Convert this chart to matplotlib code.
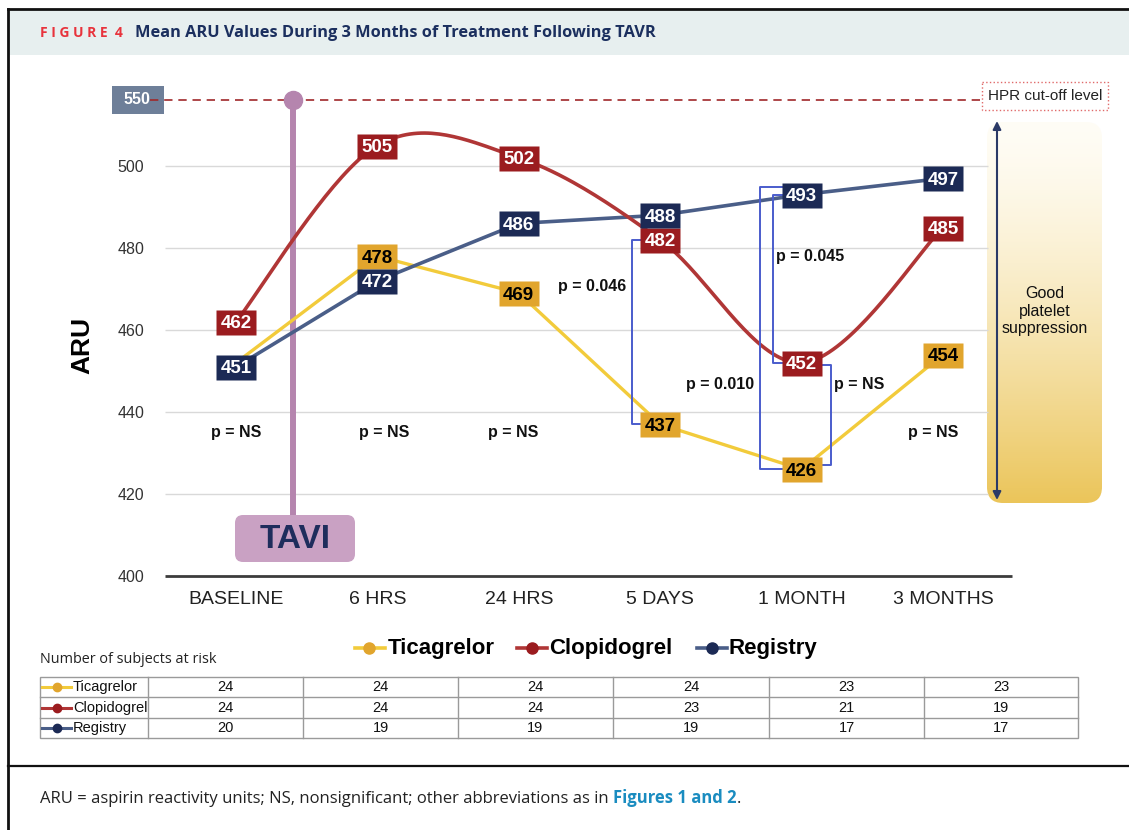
import matplotlib
matplotlib.use('Agg')
import matplotlib.pyplot as plt
import numpy as np
from matplotlib.patches import Rectangle, FancyBboxPatch
from matplotlib.path import Path
from matplotlib.colors import to_rgb

plt.rcParams['font.family'] = ['Liberation Sans', 'DejaVu Sans']

W, H = 1129, 830

# ---- data ----
timepoints = ['BASELINE', '6 HRS', '24 HRS', '5 DAYS', '1 MONTH', '3 MONTHS']
ticagrelor = [452, 478, 469, 437, 426, 454]
clopidogrel = [462, 505, 502, 482, 452, 485]
registry = [451, 472, 486, 488, 493, 497]
y_ticks = [400, 420, 440, 460, 480, 500]
hpr_cutoff = 550
hpr_pos = 516          # cut-off drawn just above 500 (broken axis)
tavi_pos = 0.4         # TAVI between baseline and 6 hrs

groups = ['Ticagrelor', 'Clopidogrel', 'Registry']
risk_ticagrelor = [24, 24, 24, 24, 23, 23]
risk_clopidogrel = [24, 24, 24, 23, 21, 19]
risk_registry = [20, 19, 19, 19, 17, 17]

# colours
c_tica_line, c_tica_box = '#f2cb3b', '#e1a52d'
c_clop_line, c_clop_box = '#b03636', '#9b1c1f'
c_reg_line, c_reg_box = '#4a5e88', '#1c2a55'
c_bracket = '#4a5ccc'
c_tavi = '#b585ae'


def smooth(xs, ys, n=40):
    # catmull-rom, like the excel "smoothed line"
    pts = np.column_stack([xs, ys]).astype(float)
    p = np.vstack([pts[0], pts, pts[-1]])
    out = []
    t = np.linspace(0, 1, n)[:, None]
    for i in range(1, len(p) - 2):
        p0, p1, p2, p3 = p[i - 1], p[i], p[i + 1], p[i + 2]
        seg = 0.5 * (2 * p1 + (-p0 + p2) * t + (2 * p0 - 5 * p1 + 4 * p2 - p3) * t ** 2
                     + (-p0 + 3 * p1 - 3 * p2 + p3) * t ** 3)
        out.append(seg)
    return np.vstack(out)


fig = plt.figure(figsize=(W / 100, H / 100), dpi=100)

# pixel-space background axes for the frame, table, legend etc.
bg = fig.add_axes([0, 0, 1, 1])
bg.set_xlim(0, W)
bg.set_ylim(H, 0)
bg.axis('off')

# frame + header
bg.add_patch(Rectangle((8, 11), W - 8, 44, fc='#e7efef', ec='none'))
bg.plot([8, W], [9, 9], color='#111111', lw=2)
bg.plot([8, 8], [9, H], color='#111111', lw=2)
bg.plot([8, W], [766, 766], color='#111111', lw=1.6)
bg.text(40, 33, 'F I G U R E  4', color='#e8333c', fontsize=10, fontweight='bold',
        family='Open Sans', va='center')
bg.text(135, 33, 'Mean ARU Values During 3 Months of Treatment Following TAVR',
        color='#1b2f5e', fontsize=11.8, fontweight='bold', family='Open Sans', va='center')

# main chart axes: x 165..1012 px, y 84..576 px
px_per_x = 141.4
x0_px = 236
left_px, right_px, top_px, bot_px = 165, 1012, 84, 576
ax = fig.add_axes([left_px / W, (H - bot_px) / H, (right_px - left_px) / W, (bot_px - top_px) / H])
ax.set_zorder(1)
ax.patch.set_alpha(0)
ax.set_xlim((left_px - x0_px) / px_per_x, (right_px - x0_px) / px_per_x)
ax.set_ylim(400, 400 + (bot_px - top_px) / 4.1)
for s in ax.spines.values():
    s.set_visible(False)
x = np.arange(len(timepoints))
ax.set_xticks(x)
ax.set_xticklabels(timepoints, fontsize=14, color='#222222')
ax.set_yticks(y_ticks)
ax.set_yticklabels([str(v) for v in y_ticks], fontsize=11.5, color='#333333')
ax.tick_params(axis='both', length=0)
ax.tick_params(axis='x', pad=11)
ax.tick_params(axis='y', pad=15)

ax.hlines(y_ticks[1:], -0.5, 5.32, color='#d9d9d9', lw=1, zorder=0)
ax.hlines(400, ax.get_xlim()[0], ax.get_xlim()[1], color='#3c3c3c', lw=2, zorder=1, clip_on=False)

# HPR cut-off
ax.plot([-0.61, 5.26], [hpr_pos, hpr_pos], color='#a0282a', lw=1.2, dashes=(5, 3.5),
        zorder=1, clip_on=False)

# TAVI marker
y_tavi_bot = 400 + (bot_px - 515) / 4.1
ax.plot([tavi_pos, tavi_pos], [y_tavi_bot, hpr_pos], color=c_tavi, lw=4.3, zorder=2,
        solid_capstyle='butt')
ax.plot(tavi_pos, hpr_pos, 'o', ms=13, color=c_tavi, zorder=2, clip_on=False)

# series
ax.plot(x, ticagrelor, color=c_tica_line, lw=2.4, zorder=2)
ax.plot(x, registry, color=c_reg_line, lw=2.6, zorder=3)
sc = smooth(x, clopidogrel)
ax.plot(sc[:, 0], sc[:, 1], color=c_clop_line, lw=2.6, zorder=3)

# value boxes
rect = Path([(-0.8, -0.5), (0.8, -0.5), (0.8, 0.5), (-0.8, 0.5), (-0.8, -0.5)])


def value_boxes(xs, ys, fc, tc, z):
    for xi, yi in zip(xs, ys):
        ax.plot(xi, yi, marker=rect, ms=28.8, mfc=fc, mec='none', zorder=z, clip_on=False)
        ax.text(xi, yi, str(yi), ha='center', va='center_baseline', fontsize=13.5,
                fontweight='bold', color=tc, zorder=z + 0.5)


value_boxes(x[1:], ticagrelor[1:], c_tica_box, 'black', 6)
value_boxes(x, clopidogrel, c_clop_box, 'white', 7)
value_boxes(x, registry, c_reg_box, 'white', 8)


# significance brackets
def bracket(xv, x_top, y_top, x_bot, y_bot):
    ax.plot([x_top, xv, xv, x_bot], [y_top, y_top, y_bot, y_bot], color=c_bracket,
            lw=1.4, zorder=4)


bracket(3 - 28 / px_per_x, 3, clopidogrel[3], 3, ticagrelor[3])
bracket(4 - 42 / px_per_x, 4, 495, 4, 426)
bracket(4 - 29 / px_per_x, 4, registry[4], 4, clopidogrel[4])
bracket(4 + 29 / px_per_x, 4, 451.5, 4, 427)

pk = dict(ha='center', va='center', fontsize=11.5, fontweight='bold', color='#111111', zorder=9)
for xp in [0, 1.05, 1.96, 4.93]:
    ax.text(xp, 435.1, 'p = NS', **pk)
ax.text(2.52, 470.7, 'p = 0.046', **pk)
ax.text(3.42, 446.8, 'p = 0.010', **pk)
ax.text(4.06, 478, 'p = 0.045', **pk)
ax.text(4.41, 446.6, 'p = NS', **pk)

# y label and 550 label
bg.text(82, 345, 'ARU', rotation=90, fontsize=19, fontweight='bold', ha='center', va='center')
bg.add_patch(Rectangle((112, 86), 52, 28, fc='#6e7f99', ec='none'))
bg.text(137, 100, str(hpr_cutoff), color='white', fontsize=11.5, fontweight='bold',
        ha='center', va='center')

# TAVI box
bg.add_patch(FancyBboxPatch((241, 521), 108, 35, boxstyle='round,pad=6,rounding_size=8',
                            fc='#c9a1c3', ec='none'))
bg.text(295, 539, 'TAVI', fontsize=24, fontweight='bold', color='#1e2d5c',
        ha='center', va='center')

# HPR box
bg.add_patch(Rectangle((982, 82), 126, 28, fc='white', ec='#e06a6a', lw=1, ls=':'))
bg.text(1045, 96, 'HPR cut-off level', fontsize=11, ha='center', va='center', color='#222222')

# good platelet suppression gradient box
gbox = FancyBboxPatch((987, 122), 115, 381, boxstyle='round,pad=0,rounding_size=16',
                      fc='none', ec='none')
bg.add_patch(gbox)
top_c = np.array(to_rgb('#fffdf6'))
bot_c = np.array(to_rgb('#ebc55a'))
tt = np.linspace(0, 1, 256)[:, None] ** 1.4
grad = (top_c * (1 - tt) + bot_c * tt)[:, None, :]
im = bg.imshow(grad, extent=(987, 1102, 503, 122), aspect='auto', origin='upper', zorder=0)
im.set_clip_path(gbox)
bg.set_xlim(0, W)
bg.set_ylim(H, 0)
bg.annotate('', xy=(997, 121), xytext=(997, 500),
            arrowprops=dict(arrowstyle='<|-|>', color='#2b3a67', lw=1.5, mutation_scale=12,
                            shrinkA=0, shrinkB=0))
bg.text(1045, 311, 'Good\nplatelet\nsuppression', fontsize=11.5, ha='center', va='center',
        color='#111111')

# legend
leg = [(355, 385, 369, 388, groups[0], c_tica_line, c_tica_box),
       (517, 547, 532, 549, groups[1], c_clop_line, c_clop_box),
       (697, 727, 712, 729, groups[2], c_reg_line, c_reg_box)]
for xa, xb, xm, xt, lab, lc, mc in leg:
    bg.plot([xa, xb], [648, 648], color=lc, lw=2.6)
    bg.plot(xm, 648, 'o', ms=8, color=mc)
    bg.text(xt, 648, lab, fontsize=16, fontweight='bold', ha='left', va='center')

# at-risk table
bg.text(40, 659, 'Number of subjects at risk', fontsize=10.4, family='Open Sans',
        ha='left', va='center', color='#222222')
tab_top, row_h = 677, 20.4
col_edges = [40, 148, 303, 458, 613, 769, 924, 1078]
n_rows = len(groups)
bg.add_patch(Rectangle((col_edges[0], tab_top), col_edges[-1] - col_edges[0], row_h * n_rows,
                       fc='none', ec='#9a9a9a', lw=1))
for ce in col_edges[1:-1]:
    bg.plot([ce, ce], [tab_top, tab_top + row_h * n_rows], color='#9a9a9a', lw=1)
for r in range(1, n_rows):
    bg.plot([col_edges[0], col_edges[-1]], [tab_top + r * row_h] * 2, color='#9a9a9a', lw=1)
rows = [risk_ticagrelor, risk_clopidogrel, risk_registry]
row_cols = [(c_tica_line, c_tica_box), (c_clop_line, c_clop_box), (c_reg_line, c_reg_box)]
for r, (lab, vals, (lc, mc)) in enumerate(zip(groups, rows, row_cols)):
    yc = tab_top + (r + 0.5) * row_h
    bg.plot([42, 71], [yc, yc], color=lc, lw=2.2)
    bg.plot(57, yc, 'o', ms=6, color=mc)
    bg.text(73, yc, lab, fontsize=10.5, ha='left', va='center', color='#111111')
    for c, v in enumerate(vals):
        xc = (col_edges[c + 1] + col_edges[c + 2]) / 2
        bg.text(xc, yc, str(v), fontsize=10.5, ha='center', va='center', color='#111111')

# caption
t1 = bg.text(40, 799, 'ARU = aspirin reactivity units; NS, nonsignificant; other abbreviations as in ',
             fontsize=12, family='Open Sans', ha='left', va='center', color='#222222')
t2 = bg.annotate('Figures 1 and 2', xy=(1, 0), xycoords=t1, ha='left', va='bottom',
                 fontsize=12, family='Open Sans', fontweight='bold', color='#1a8cc0')
bg.annotate('.', xy=(1, 0), xycoords=t2, ha='left', va='bottom', fontsize=12,
            family='Open Sans', color='#222222')

fig.savefig('out.png', dpi=100)
